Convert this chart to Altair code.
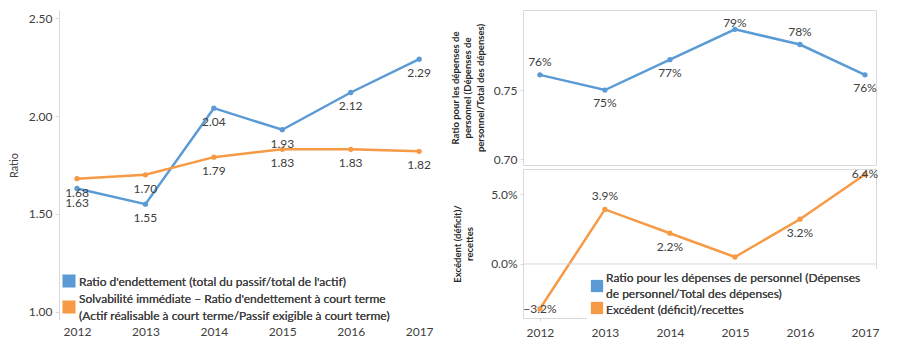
import altair as alt
import pandas as pd

# ---------------- data ----------------
years = [2012, 2013, 2014, 2015, 2016, 2017]

left_series = [
    "Ratio d'endettement (total du passif/total de l'actif)",
    "Solvabilité immédiate – Ratio d'endettement à court terme (Actif réalisable à court terme/Passif exigible à court terme)",
]
endettement = [1.63, 1.55, 2.04, 1.93, 2.12, 2.29]
solvabilite = [1.68, 1.70, 1.79, 1.83, 1.83, 1.82]

right_series = [
    "Ratio pour les dépenses de personnel (Dépenses de personnel/Total des dépenses)",
    "Excédent (déficit)/recettes",
]
personnel = [0.761, 0.750, 0.772, 0.794, 0.783, 0.761]
excedent = [-0.032, 0.039, 0.022, 0.005, 0.032, 0.064]

left_ticks = [1.0, 1.5, 2.0, 2.5]
top_ticks = [0.70, 0.75]
bottom_ticks = [0.0, 0.05]
zero_line = [0.0]

BLUE = "#5B9BD5"
ORANGE = "#F79A45"
TXT = "#404040"
GRID = "#d9d9d9"
FONT = "Lato"

left_df = pd.DataFrame(
    {"year": years * 2,
     "series": [left_series[0]] * 6 + [left_series[1]] * 6,
     "value": endettement + solvabilite}
)
top_df = pd.DataFrame({"year": years, "series": right_series[0], "value": personnel})
bot_df = pd.DataFrame({"year": years, "series": right_series[1], "value": excedent})

left_color = alt.Color("series:N", scale=alt.Scale(domain=left_series, range=[BLUE, ORANGE]), legend=None)

# ---------------- left chart ----------------
LW, LH = 380, 310
lx = alt.X("year:Q", scale=alt.Scale(domain=[2011.737, 2017.29], nice=False, zero=False),
           axis=alt.Axis(values=years, format="d", title=None, domain=False, ticks=False, grid=False,
                         labelFontSize=12, labelColor=TXT, labelPadding=6, labelFont=FONT))
ly = alt.Y("value:Q", scale=alt.Scale(domain=[0.959, 2.541], nice=False, zero=False),
           axis=alt.Axis(values=left_ticks, format=".2f", title="Ratio", grid=False,
                         domainColor=GRID, tickColor=GRID, tickSize=4, labelPadding=3,
                         labelFontSize=12, labelColor=TXT, labelFont=FONT,
                         titleFontSize=11, titleFontWeight="normal", titleColor=TXT, titlePadding=9,
                         titleFont=FONT))

lbase = alt.Chart(left_df).encode(x=lx, y=ly, color=left_color)
l_line = lbase.mark_line(strokeWidth=2.5)
l_pts = lbase.mark_circle(size=28, opacity=1)
l_lab = lbase.mark_text(dy=14, fontSize=12, font=FONT, color=TXT).encode(
    text=alt.Text("value:Q", format=".2f"), color=alt.value(TXT))

# legend (manual)
leg_src = pd.DataFrame({"series": left_series})
l_leg_bg = alt.Chart(leg_src).mark_rect(fill="white").encode(
    x=alt.value(2), x2=alt.value(378), y=alt.value(260), y2=alt.value(312))
l_leg_sq1 = alt.Chart(leg_src).transform_filter(alt.datum.series == left_series[0]).mark_square(
    size=170, opacity=1).encode(x=alt.value(10), y=alt.value(271), color=left_color)
l_leg_sq2 = alt.Chart(leg_src).transform_filter(alt.datum.series == left_series[1]).mark_square(
    size=170, opacity=1).encode(x=alt.value(10), y=alt.value(297), color=left_color)
l_leg_t1 = alt.Chart(leg_src).mark_text(
    align="left", baseline="middle", fontSize=12, font=FONT, color=TXT,
    text="Ratio d'endettement (total du passif/total de l'actif)").encode(
    x=alt.value(20), y=alt.value(272))
l_leg_t2 = alt.Chart(leg_src).mark_text(
    align="left", baseline="middle", fontSize=12, font=FONT, color=TXT, lineHeight=17,
    text=["Solvabilité immédiate – Ratio d'endettement à court terme",
          "(Actif réalisable à court terme/Passif exigible à court terme)"]).encode(
    x=alt.value(20), y=alt.value(289))

left = alt.layer(l_line, l_pts, l_lab, l_leg_bg, l_leg_sq1, l_leg_sq2, l_leg_t1, l_leg_t2).properties(
    width=LW, height=LH, view=alt.ViewBackground(stroke=None))

# ---------------- right charts ----------------
RW = 353
right_color = alt.Color("series:N", scale=alt.Scale(domain=right_series, range=[BLUE, ORANGE]), legend=None)
rx_scale = alt.Scale(domain=[2011.74, 2017.17], nice=False, zero=False)

# top right
TH = 155
ty = alt.Y("value:Q", scale=alt.Scale(domain=[0.6957, 0.808], nice=False, zero=False),
           axis=alt.Axis(values=top_ticks, format=".2f",
                         title=["Ratio pour les dépenses de", "personnel (Dépenses de",
                                "personnel/Total des dépenses)"],
                         grid=False, domainColor=GRID, tickColor=GRID, tickSize=3, labelPadding=3,
                         labelFontSize=12, labelColor=TXT, labelFont=FONT,
                         titleFontSize=9.5, titleFontWeight="bold", titleColor="#262626",
                         titleLineHeight=12.5, titlePadding=8, titleFont=FONT))
tbase = alt.Chart(top_df).encode(x=alt.X("year:Q", scale=rx_scale, axis=None), y=ty, color=right_color)
t_line = tbase.mark_line(strokeWidth=2.5)
t_pts = tbase.mark_circle(size=28, opacity=1)
t_above = tbase.transform_filter(alt.FieldOneOfPredicate(field="year", oneOf=[2012, 2016])).mark_text(
    dy=-13, fontSize=12, font=FONT, color=TXT).encode(text=alt.Text("value:Q", format=".0%"), color=alt.value(TXT))
t_near = tbase.transform_filter(alt.FieldOneOfPredicate(field="year", oneOf=[2015])).mark_text(
    dy=-6, fontSize=12, font=FONT, color=TXT).encode(text=alt.Text("value:Q", format=".0%"), color=alt.value(TXT))
t_below = tbase.transform_filter(alt.FieldOneOfPredicate(field="year", oneOf=[2013, 2014, 2017])).mark_text(
    dy=13, fontSize=12, font=FONT, color=TXT).encode(text=alt.Text("value:Q", format=".0%"), color=alt.value(TXT))
top = alt.layer(t_line, t_pts, t_above, t_near, t_below).properties(
    width=RW, height=TH, view=alt.ViewBackground(stroke=GRID))

# bottom right
BH = 149
by_scale = alt.Scale(domain=[-0.0386, 0.0679], nice=False, zero=False)
by = alt.Y("value:Q", scale=by_scale,
           axis=alt.Axis(values=bottom_ticks, format=".1%",
                         title=["Excédent (déficit)/", "recettes"],
                         grid=False, domainColor=GRID, tickColor=GRID, tickSize=3, labelPadding=3,
                         labelFontSize=12, labelColor=TXT, labelFont=FONT,
                         titleFontSize=9.5, titleFontWeight="bold", titleColor="#262626",
                         titleLineHeight=12.5, titlePadding=16, titleFont=FONT))
bx = alt.X("year:Q", scale=rx_scale,
           axis=alt.Axis(values=years, format="d", title=None, domain=False, grid=False,
                         ticks=True, tickColor=GRID, tickSize=3,
                         labelFontSize=12, labelColor=TXT, labelPadding=6, labelFont=FONT))
bbase = alt.Chart(bot_df).encode(x=bx, y=by, color=right_color)
b_line = bbase.mark_line(strokeWidth=2.5)
zero = alt.Chart(pd.DataFrame({"value": zero_line})).mark_rule(color=GRID, strokeWidth=1).encode(
    y=alt.Y("value:Q"))
b_pts = bbase.mark_circle(size=28, opacity=1)
b_above = bbase.transform_filter(alt.FieldOneOfPredicate(field="year", oneOf=[2013])).mark_text(
    dy=-13, fontSize=12, font=FONT, color=TXT).encode(text=alt.Text("value:Q", format=".1%"), color=alt.value(TXT))
b_below = bbase.transform_filter(alt.FieldOneOfPredicate(field="year", oneOf=[2014, 2016])).mark_text(
    dy=14, fontSize=12, font=FONT, color=TXT).encode(text=alt.Text("value:Q", format=".1%"), color=alt.value(TXT))
b_on = bbase.transform_filter(alt.FieldOneOfPredicate(field="year", oneOf=[2012, 2017])).mark_text(
    dy=0, fontSize=12, font=FONT, color=TXT).encode(text=alt.Text("value:Q", format=".1%"), color=alt.value(TXT))

rleg_src = pd.DataFrame({"series": right_series})
r_leg_bg = alt.Chart(rleg_src).mark_rect(fill="white").encode(
    x=alt.value(64), x2=alt.value(358), y=alt.value(100), y2=alt.value(152))
r_leg_sq1 = alt.Chart(rleg_src).transform_filter(alt.datum.series == right_series[0]).mark_square(
    size=150, opacity=1).encode(x=alt.value(74), y=alt.value(117), color=right_color)
r_leg_sq2 = alt.Chart(rleg_src).transform_filter(alt.datum.series == right_series[1]).mark_square(
    size=150, opacity=1).encode(x=alt.value(74), y=alt.value(139), color=right_color)
r_leg_t1 = alt.Chart(rleg_src).mark_text(
    align="left", baseline="middle", fontSize=12, font=FONT, color=TXT, lineHeight=16,
    text=["Ratio pour les dépenses de personnel (Dépenses",
          "de personnel/Total des dépenses)"]).encode(x=alt.value(83), y=alt.value(109))
r_leg_t2 = alt.Chart(rleg_src).mark_text(
    align="left", baseline="middle", fontSize=12, font=FONT, color=TXT,
    text="Excédent (déficit)/recettes").encode(x=alt.value(83), y=alt.value(141))

bottom = alt.layer(b_line, zero, b_pts, b_above, b_below, b_on,
                   r_leg_bg, r_leg_sq1, r_leg_sq2, r_leg_t1, r_leg_t2).properties(
    width=RW, height=BH, view=alt.ViewBackground(stroke=GRID))

right = alt.vconcat(top, bottom, spacing=1)

chart = alt.hconcat(left, right, spacing=10).properties(padding={"left": 0, "top": 1, "right": 0, "bottom": 0}).configure(
    font=FONT).configure_view(strokeWidth=1)

chart.save("out.html", embed_options={"renderer": "svg", "actions": False})
